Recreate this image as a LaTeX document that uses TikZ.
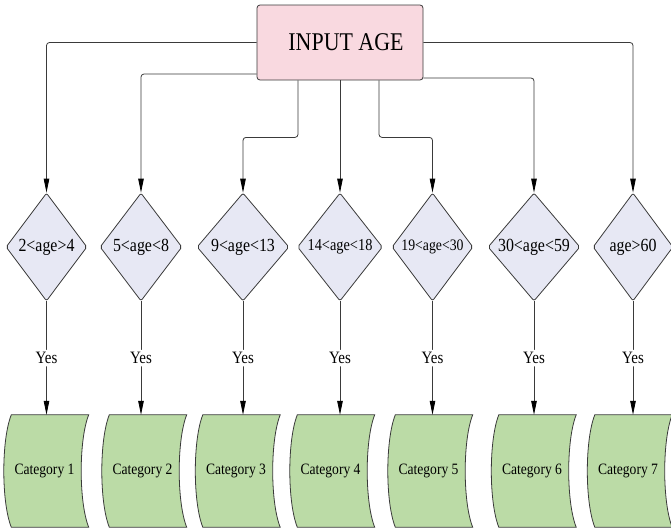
\documentclass[tikz,border=0pt]{standalone}
\usepackage{fontspec}
\setmainfont{Liberation Serif}[FakeStretch=0.86]
\usetikzlibrary{shapes.geometric,arrows.meta,backgrounds}

\definecolor{inpink}{HTML}{F9D9E0}
\definecolor{decfill}{HTML}{E7E8F4}
\definecolor{catgreen}{HTML}{BBDBA6}
\definecolor{wirecol}{HTML}{3A3A3A}

\newcommand\fsz[1]{\fontsize{#1}{#1}\selectfont}

\begin{document}
\begin{tikzpicture}[x=1pt,y=-1pt,
  inbox/.style={draw=wirecol, fill=inpink, rounded corners=3pt, line width=0.8pt,
    minimum width=166pt, minimum height=75pt, inner sep=0pt, font=\fsz{25.5}},
  decision/.style={diamond, draw=wirecol, fill=decfill, rounded corners=2pt, line width=0.8pt,
    minimum height=108pt, inner sep=0pt, font=\fsz{18.5}},
  catnode/.style={minimum width=77pt, minimum height=112pt, inner sep=0pt, font=\fsz{15.8}},
  catbox/.style={draw=wirecol, fill=catgreen, line width=0.8pt},
  link/.style={draw=wirecol, line width=0.8pt, rounded corners=3pt,
    -{Triangle[length=14pt,width=5.5pt,color=black]}},
  yes/.style={fill=white, inner sep=2.5pt, font=\fsz{17.4}}]

\useasboundingbox (0,0) rectangle (671,528);

% input box
\node[inbox] (in) at (340,42.5) {\hspace*{12pt}INPUT AGE};

% age tests
\node[decision, minimum width=81pt] (d1) at (46.5,247) {2<age>4};
\node[decision, minimum width=82pt] (d2) at (141,247) {5<age<8};
\node[decision, minimum width=92pt] (d3) at (243,247) {9<age<13};
\node[decision, minimum width=85pt, font=\fsz{16.7}] (d4) at (340,247) {14<age<18};
\node[decision, minimum width=81pt, font=\fsz{16}] (d5) at (432.5,247) {19<age<30};
\node[decision, minimum width=92pt] (d6) at (534,247) {30<age<59};
\node[decision, minimum width=80pt] (d7) at (633,247) {age>60};

% categories
\node[catnode] (c1) at (50,471) {Category 1\hspace*{11pt}};
\node[catnode] (c2) at (148,471) {Category 2\hspace*{11pt}};
\node[catnode] (c3) at (241.5,471) {Category 3\hspace*{11pt}};
\node[catnode] (c4) at (336,471) {Category 4\hspace*{11pt}};
\node[catnode] (c5) at (434,471) {Category 5\hspace*{11pt}};
\node[catnode] (c6) at (537.5,471) {Category 6\hspace*{11pt}};
\node[catnode] (c7) at (633.5,471) {Category 7\hspace*{11pt}};

\begin{scope}[on background layer]
  \fill[white] (0,0) rectangle (671,528);
  \foreach \i in {1,...,7}
    \path[catbox] (c\i.north west) .. controls +(-10,25) and +(-10,-25) .. (c\i.south west)
      -- (c\i.south east) .. controls +(-10,-25) and +(-10,25) .. (c\i.north east) -- cycle;
\end{scope}

% branches from the input box
\draw[link] (in.west) -| (d1.north);
\draw[link] ([yshift=-31.5pt]in.west) -| (d2.north);
\draw[link] ([xshift=-42pt]in.south) -- ++(0,57) -| (d3.north);
\draw[link] (in.south) -- (d4.north);
\draw[link] ([xshift=39pt]in.south) -- ++(0,57) -| (d5.north);
\draw[link] ([yshift=-35.5pt]in.east) -| (d6.north);
\draw[link] (in.east) -| (d7.north);

% yes branches
\foreach \i in {1,...,7}
  \draw[link] (d\i.south) -- node[yes] {Yes} (d\i.south |- c\i.north);

\end{tikzpicture}
\end{document}
